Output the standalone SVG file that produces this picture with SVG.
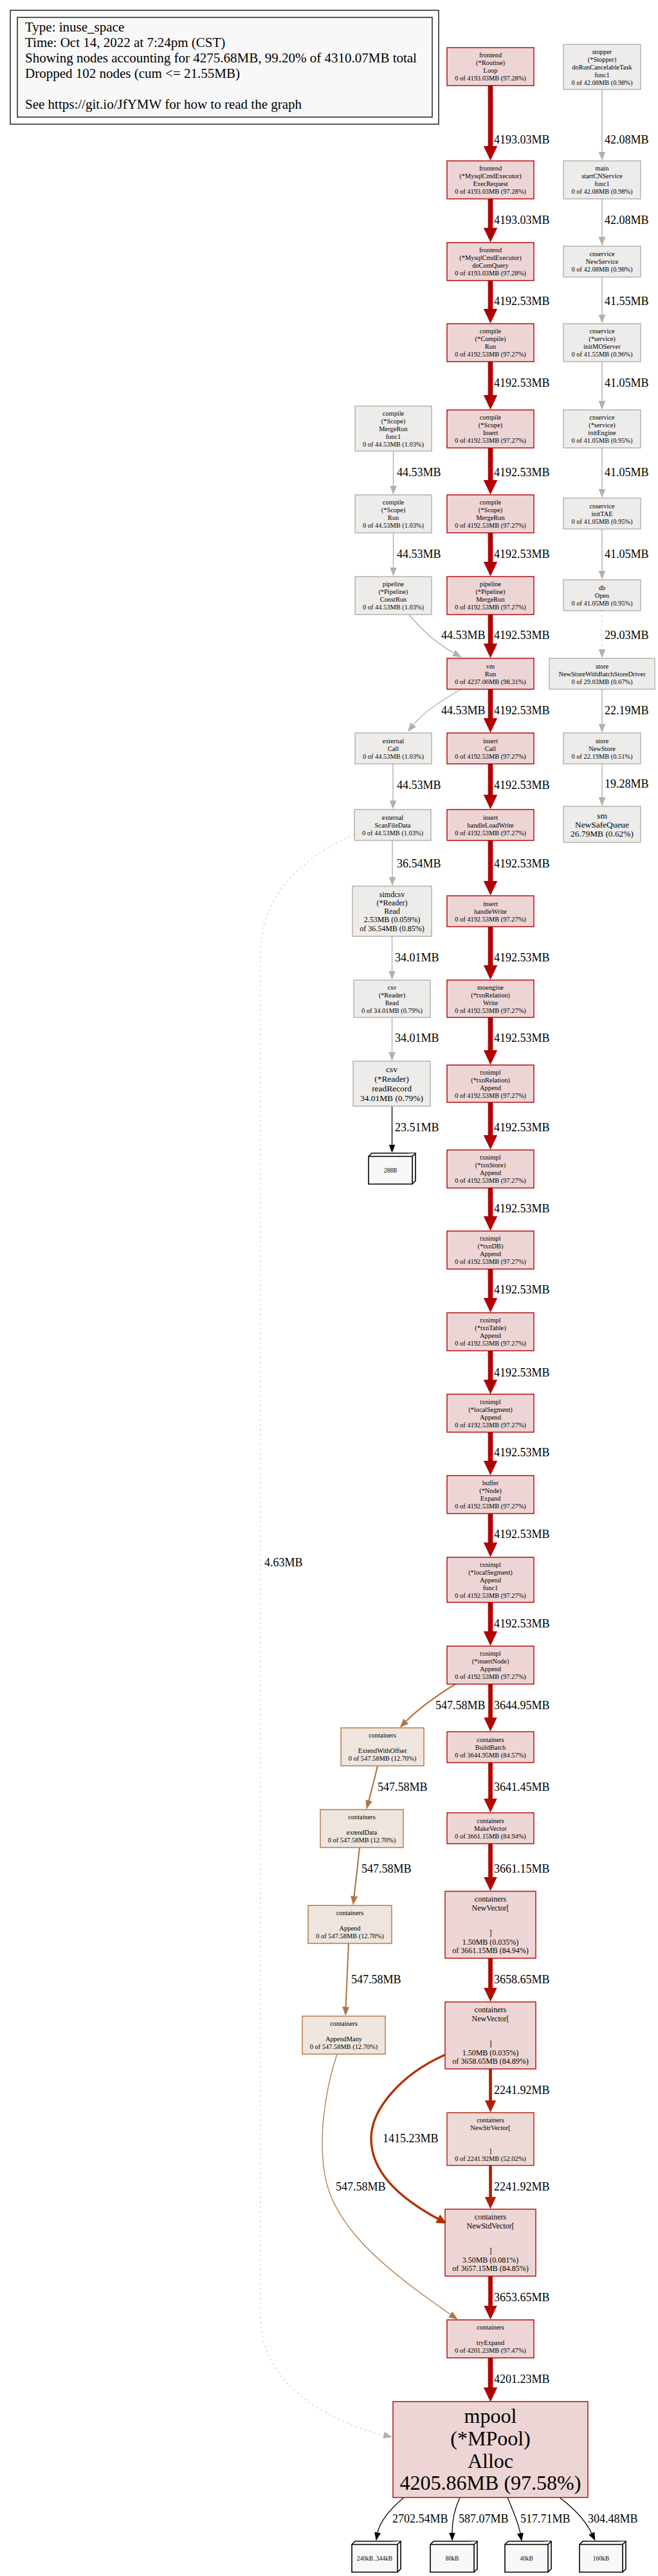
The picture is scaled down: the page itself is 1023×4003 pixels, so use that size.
<svg xmlns="http://www.w3.org/2000/svg" width="1023" height="4003" viewBox="0 0 1023 4003">
<style>
text{font-family:"Liberation Serif","Times New Roman",serif;fill:#000}
.n text{text-anchor:middle;font-size:10.4px}
.n12 text{font-size:12px}
.n13 text{font-size:13.4px}
.red rect{fill:#edd5d5;stroke:#b20000;stroke-width:1.4}
.red8 rect{fill:#edd6d5;stroke:#b20800;stroke-width:1.4}
.red1f rect{fill:#edd9d5;stroke:#b21f00;stroke-width:1.4}
.gray rect{fill:#edeceb;stroke:#b2b0a9;stroke-width:1.4}
.org rect{fill:#ede5de;stroke:#b27541;stroke-width:1.4}
.b3 path{fill:#f8f8f8;stroke:#000;stroke-width:1.6}
.b3 text{font-size:9.5px}
.lbl{font-size:18px}
#edges path{fill:none}
.eR{stroke:#b20000;stroke-width:7.6}
.eR8{stroke:#b20800;stroke-width:6.8}
.eR1f{stroke:#b21f00;stroke-width:4.7}
.eR32{stroke:#b23200;stroke-width:3.4}
.eO{stroke:#b27541;stroke-width:2.1}
.eO1{stroke:#b27541;stroke-width:1.3}
.eG{stroke:#b2b0a9;stroke-width:1.4}
.eD{stroke:#b2b1ac;stroke-width:1.4;stroke-dasharray:1.5,6}
.eK{stroke:#000;stroke-width:1.3}
</style>
<defs>
<marker id="aR" viewBox="0 0 23 22" markerWidth="23" markerHeight="22" refX="0.5" refY="11" orient="auto" markerUnits="userSpaceOnUse"><path d="M0,0L23,11L0,22z" fill="#b20000"/></marker>
<marker id="aR8" viewBox="0 0 22 21" markerWidth="22" markerHeight="21" refX="0.5" refY="10.5" orient="auto" markerUnits="userSpaceOnUse"><path d="M0,0L22,10.5L0,21z" fill="#b20800"/></marker>
<marker id="aR1f" viewBox="0 0 19 18" markerWidth="19" markerHeight="18" refX="0.5" refY="9" orient="auto" markerUnits="userSpaceOnUse"><path d="M0,0L19,9L0,18z" fill="#b21f00"/></marker>
<marker id="aR32" viewBox="0 0 16 15" markerWidth="16" markerHeight="15" refX="0.5" refY="7.5" orient="auto" markerUnits="userSpaceOnUse"><path d="M0,0L16,7.5L0,15z" fill="#b23200"/></marker>
<marker id="aO" viewBox="0 0 14 11" markerWidth="14" markerHeight="11" refX="0.5" refY="5.5" orient="auto" markerUnits="userSpaceOnUse"><path d="M0,0L14,5.5L0,11z" fill="#b27541"/></marker>
<marker id="aG" viewBox="0 0 14 11" markerWidth="14" markerHeight="11" refX="0.5" refY="5.5" orient="auto" markerUnits="userSpaceOnUse"><path d="M0,0L14,5.5L0,11z" fill="#b2b0a9"/></marker>
<marker id="aK" viewBox="0 0 13 10" markerWidth="13" markerHeight="10" refX="0.5" refY="5" orient="auto" markerUnits="userSpaceOnUse"><path d="M0,0L13,5L0,10z" fill="#000"/></marker>
</defs>
<rect width="1023" height="4003" fill="#fff"/>

<g id="legend">
<rect x="16" y="16" width="666" height="177" fill="#fff" stroke="#000" stroke-width="1.3"/>
<rect x="27" y="27" width="645" height="155" fill="#f8f8f8" stroke="#000" stroke-width="1.3"/>
<text x="39" y="49" font-size="21">Type: inuse_space</text>
<text x="39" y="73" font-size="21">Time: Oct 14, 2022 at 7:24pm (CST)</text>
<text x="39" y="97" font-size="21">Showing nodes accounting for 4275.68MB, 99.20% of 4310.07MB total</text>
<text x="39" y="121" font-size="21">Dropped 102 nodes (cum &lt;= 21.55MB)</text>
<text x="39" y="169" font-size="21">See https://git.io/JfYMW for how to read the graph</text>
</g>

<g id="edges">
<!-- main column -->
<path class="eR" d="M762.5,133V227" marker-end="url(#aR)"/>
<path class="eR" d="M762.5,309V354" marker-end="url(#aR)"/>
<path class="eR" d="M762.5,436V480" marker-end="url(#aR)"/>
<path class="eR" d="M762.5,562V614" marker-end="url(#aR)"/>
<path class="eR" d="M762.5,696V746" marker-end="url(#aR)"/>
<path class="eR" d="M762.5,828V873" marker-end="url(#aR)"/>
<path class="eR" d="M762.5,955V1000" marker-end="url(#aR)"/>
<path class="eR" d="M762.5,1071V1116" marker-end="url(#aR)"/>
<path class="eR" d="M762.5,1187V1235" marker-end="url(#aR)"/>
<path class="eR" d="M762.5,1306V1369" marker-end="url(#aR)"/>
<path class="eR" d="M762.5,1440V1500" marker-end="url(#aR)"/>
<path class="eR" d="M762.5,1581V1632" marker-end="url(#aR)"/>
<path class="eR" d="M762.5,1713V1764" marker-end="url(#aR)"/>
<path class="eR" d="M762.5,1846V1890" marker-end="url(#aR)"/>
<path class="eR" d="M762.5,1972V2017" marker-end="url(#aR)"/>
<path class="eR" d="M762.5,2099V2144" marker-end="url(#aR)"/>
<path class="eR" d="M762.5,2225V2270" marker-end="url(#aR)"/>
<path class="eR" d="M762.5,2352V2397" marker-end="url(#aR)"/>
<path class="eR" d="M762.5,2490V2535" marker-end="url(#aR)"/>
<path class="eR8" d="M762.5,2617V2669" marker-end="url(#aR8)"/>
<path class="eR8" d="M762.5,2739V2795" marker-end="url(#aR8)"/>
<path class="eR8" d="M762.5,2865V2917" marker-end="url(#aR8)"/>
<path class="eR8" d="M762.5,3043V3089" marker-end="url(#aR8)"/>
<path class="eR1f" d="M762.5,3215V3264" marker-end="url(#aR1f)"/>
<path class="eR1f" d="M762.5,3365V3414" marker-end="url(#aR1f)"/>
<path class="eR8" d="M762.5,3537V3583" marker-end="url(#aR8)"/>
<path class="eR" d="M762.5,3664V3710" marker-end="url(#aR)"/>
<path class="eR32" d="M692,3193C620,3225 577,3280 577,3323C577,3375 620,3415 681,3448" marker-end="url(#aR32)"/>
<!-- left column -->
<path class="eG" d="M611.5,701V755" marker-end="url(#aG)"/>
<path class="eG" d="M611.5,828V882" marker-end="url(#aG)"/>
<path class="eG" d="M636,955C660,985 685,1003 706,1015" marker-end="url(#aG)"/>
<path class="eG" d="M717,1071C690,1086 660,1105 642.4,1126.6" marker-end="url(#aG)"/>
<path class="eG" d="M611,1187V1244" marker-end="url(#aG)"/>
<path class="eG" d="M610,1306V1363" marker-end="url(#aG)"/>
<path class="eG" d="M609.5,1455V1509" marker-end="url(#aG)"/>
<path class="eG" d="M609.5,1581V1635" marker-end="url(#aG)"/>
<path class="eK" d="M609.5,1719V1779" marker-end="url(#aK)"/>
<path class="eD" d="M551,1297C490,1322 405,1380 405,1480L405,3600C405,3700 500,3760 597,3784" marker-end="url(#aG)"/>
<!-- right column -->
<path class="eG" d="M936,139V236" marker-end="url(#aG)"/>
<path class="eG" d="M936,309V368.5" marker-end="url(#aG)"/>
<path class="eG" d="M936,430.5V489" marker-end="url(#aG)"/>
<path class="eG" d="M936,562V623" marker-end="url(#aG)"/>
<path class="eG" d="M936,696V760" marker-end="url(#aG)"/>
<path class="eG" d="M936,822V887" marker-end="url(#aG)"/>
<path class="eD" d="M936,949V1009" marker-end="url(#aG)"/>
<path class="eG" d="M936,1071V1125" marker-end="url(#aG)"/>
<path class="eG" d="M936,1187V1239" marker-end="url(#aG)"/>
<!-- orange branch -->
<path class="eO" d="M708,2617C682,2633 652,2654 631,2675" marker-end="url(#aO)"/>
<path class="eO" d="M587,2744C582,2765 577,2785 573.4,2798.4" marker-end="url(#aO)"/>
<path class="eO" d="M559,2871C556,2900 553,2925 550.5,2947" marker-end="url(#aO)"/>
<path class="eO" d="M542,3020C540,3060 538.5,3095 537.6,3119" marker-end="url(#aO)"/>
<path class="eO1" d="M524,3192C505,3250 495,3320 505,3380C520,3470 620,3540 700.7,3596.8" marker-end="url(#aO)"/>
<!-- mpool outputs -->
<path class="eK" d="M628,3881C605,3900 590,3920 587,3936" marker-end="url(#aK)"/>
<path class="eK" d="M715,3881C706,3900 703,3920 703,3936" marker-end="url(#aK)"/>
<path class="eK" d="M789,3881C797,3900 806,3920 809,3937" marker-end="url(#aK)"/>
<path class="eK" d="M870,3881C895,3900 912,3920 920,3937" marker-end="url(#aK)"/>
</g>

<g id="edge-labels" class="lbl">
<text class="lbl" x="768" y="223">4193.03MB</text>
<text class="lbl" x="768" y="348">4193.03MB</text>
<text class="lbl" x="768" y="474">4192.53MB</text>
<text class="lbl" x="768" y="601">4192.53MB</text>
<text class="lbl" x="768" y="740">4192.53MB</text>
<text class="lbl" x="768" y="867">4192.53MB</text>
<text class="lbl" x="768" y="993">4192.53MB</text>
<text class="lbl" x="768" y="1110">4192.53MB</text>
<text class="lbl" x="768" y="1226">4192.53MB</text>
<text class="lbl" x="768" y="1348">4192.53MB</text>
<text class="lbl" x="768" y="1494">4192.53MB</text>
<text class="lbl" x="768" y="1619">4192.53MB</text>
<text class="lbl" x="768" y="1758">4192.53MB</text>
<text class="lbl" x="768" y="1884">4192.53MB</text>
<text class="lbl" x="768" y="2010">4192.53MB</text>
<text class="lbl" x="768" y="2139">4192.53MB</text>
<text class="lbl" x="768" y="2263">4192.53MB</text>
<text class="lbl" x="768" y="2390">4192.53MB</text>
<text class="lbl" x="768" y="2529">4192.53MB</text>
<text class="lbl" x="768" y="2656">3644.95MB</text>
<text class="lbl" x="768" y="2783">3641.45MB</text>
<text class="lbl" x="768" y="2910">3661.15MB</text>
<text class="lbl" x="768" y="3082">3658.65MB</text>
<text class="lbl" x="768" y="3254">2241.92MB</text>
<text class="lbl" x="768" y="3404">2241.92MB</text>
<text class="lbl" x="768" y="3576">3653.65MB</text>
<text class="lbl" x="768" y="3703">4201.23MB</text>
<text class="lbl" x="595" y="3329">1415.23MB</text>
<text class="lbl" x="617" y="740">44.53MB</text>
<text class="lbl" x="617" y="867">44.53MB</text>
<text class="lbl" x="686" y="993">44.53MB</text>
<text class="lbl" x="686" y="1110">44.53MB</text>
<text class="lbl" x="617" y="1226">44.53MB</text>
<text class="lbl" x="617" y="1348">36.54MB</text>
<text class="lbl" x="614" y="1494">34.01MB</text>
<text class="lbl" x="614" y="1619">34.01MB</text>
<text class="lbl" x="614" y="1758">23.51MB</text>
<text class="lbl" x="411" y="2434">4.63MB</text>
<text class="lbl" x="940" y="223">42.08MB</text>
<text class="lbl" x="940" y="348">42.08MB</text>
<text class="lbl" x="940" y="474">41.55MB</text>
<text class="lbl" x="940" y="601">41.05MB</text>
<text class="lbl" x="940" y="740">41.05MB</text>
<text class="lbl" x="940" y="867">41.05MB</text>
<text class="lbl" x="940" y="993">29.03MB</text>
<text class="lbl" x="940" y="1110">22.19MB</text>
<text class="lbl" x="940" y="1224">19.28MB</text>
<text class="lbl" x="677" y="2656">547.58MB</text>
<text class="lbl" x="587" y="2783">547.58MB</text>
<text class="lbl" x="562" y="2910">547.58MB</text>
<text class="lbl" x="546" y="3082">547.58MB</text>
<text class="lbl" x="522" y="3404">547.58MB</text>
<text class="lbl" x="610" y="3920">2702.54MB</text>
<text class="lbl" x="713" y="3920">587.07MB</text>
<text class="lbl" x="809" y="3920">517.71MB</text>
<text class="lbl" x="914" y="3920">304.48MB</text>
</g>

<!-- main column nodes -->
<g id="n_loop" class="n red"><rect x="695" y="74" width="135" height="59"/><text><tspan x="762.5" y="89.1">frontend</tspan><tspan x="762.5" y="101.1">(*Routine)</tspan><tspan x="762.5" y="113.1">Loop</tspan><tspan x="762.5" y="125.1">0 of 4193.03MB (97.28%)</tspan></text></g>
<g id="n_execrequest" class="n red"><rect x="695" y="250" width="135" height="59"/><text><tspan x="762.5" y="265.1">frontend</tspan><tspan x="762.5" y="277.1">(*MysqlCmdExecutor)</tspan><tspan x="762.5" y="289.1">ExecRequest</tspan><tspan x="762.5" y="301.1">0 of 4193.03MB (97.28%)</tspan></text></g>
<g id="n_docomquery" class="n red"><rect x="695" y="377" width="135" height="59"/><text><tspan x="762.5" y="392.1">frontend</tspan><tspan x="762.5" y="404.1">(*MysqlCmdExecutor)</tspan><tspan x="762.5" y="416.1">doComQuery</tspan><tspan x="762.5" y="428.1">0 of 4193.03MB (97.28%)</tspan></text></g>
<g id="n_compile_run" class="n red"><rect x="695" y="503" width="135" height="59"/><text><tspan x="762.5" y="518.1">compile</tspan><tspan x="762.5" y="530.1">(*Compile)</tspan><tspan x="762.5" y="542.1">Run</tspan><tspan x="762.5" y="554.1">0 of 4192.53MB (97.27%)</tspan></text></g>
<g id="n_scope_insert" class="n red"><rect x="695" y="637" width="135" height="59"/><text><tspan x="762.5" y="652.1">compile</tspan><tspan x="762.5" y="664.1">(*Scope)</tspan><tspan x="762.5" y="676.1">Insert</tspan><tspan x="762.5" y="688.1">0 of 4192.53MB (97.27%)</tspan></text></g>
<g id="n_scope_mergerun" class="n red"><rect x="695" y="769" width="135" height="59"/><text><tspan x="762.5" y="784.1">compile</tspan><tspan x="762.5" y="796.1">(*Scope)</tspan><tspan x="762.5" y="808.1">MergeRun</tspan><tspan x="762.5" y="820.1">0 of 4192.53MB (97.27%)</tspan></text></g>
<g id="n_pipeline_mergerun" class="n red"><rect x="695" y="896" width="135" height="59"/><text><tspan x="762.5" y="911.1">pipeline</tspan><tspan x="762.5" y="923.1">(*Pipeline)</tspan><tspan x="762.5" y="935.1">MergeRun</tspan><tspan x="762.5" y="947.1">0 of 4192.53MB (97.27%)</tspan></text></g>
<g id="n_vm_run" class="n red"><rect x="695" y="1023" width="135" height="48"/><text><tspan x="762.5" y="1038.6">vm</tspan><tspan x="762.5" y="1050.6">Run</tspan><tspan x="762.5" y="1062.6">0 of 4237.06MB (98.31%)</tspan></text></g>
<g id="n_insert_call" class="n red"><rect x="695" y="1139" width="135" height="48"/><text><tspan x="762.5" y="1154.6">insert</tspan><tspan x="762.5" y="1166.6">Call</tspan><tspan x="762.5" y="1178.6">0 of 4192.53MB (97.27%)</tspan></text></g>
<g id="n_handleloadwrite" class="n red"><rect x="695" y="1258" width="135" height="48"/><text><tspan x="762.5" y="1273.6">insert</tspan><tspan x="762.5" y="1285.6">handleLoadWrite</tspan><tspan x="762.5" y="1297.6">0 of 4192.53MB (97.27%)</tspan></text></g>
<g id="n_handlewrite" class="n red"><rect x="695" y="1392" width="135" height="48"/><text><tspan x="762.5" y="1407.6">insert</tspan><tspan x="762.5" y="1419.6">handleWrite</tspan><tspan x="762.5" y="1431.6">0 of 4192.53MB (97.27%)</tspan></text></g>
<g id="n_moengine_write" class="n red"><rect x="695" y="1523" width="135" height="58"/><text><tspan x="762.5" y="1537.6">moengine</tspan><tspan x="762.5" y="1549.6">(*txnRelation)</tspan><tspan x="762.5" y="1561.6">Write</tspan><tspan x="762.5" y="1573.6">0 of 4192.53MB (97.27%)</tspan></text></g>
<g id="n_txnrelation_append" class="n red"><rect x="695" y="1655" width="135" height="58"/><text><tspan x="762.5" y="1669.6">txnimpl</tspan><tspan x="762.5" y="1681.6">(*txnRelation)</tspan><tspan x="762.5" y="1693.6">Append</tspan><tspan x="762.5" y="1705.6">0 of 4192.53MB (97.27%)</tspan></text></g>
<g id="n_txnstore_append" class="n red"><rect x="695" y="1787" width="135" height="59"/><text><tspan x="762.5" y="1802.1">txnimpl</tspan><tspan x="762.5" y="1814.1">(*txnStore)</tspan><tspan x="762.5" y="1826.1">Append</tspan><tspan x="762.5" y="1838.1">0 of 4192.53MB (97.27%)</tspan></text></g>
<g id="n_txndb_append" class="n red"><rect x="695" y="1913" width="135" height="59"/><text><tspan x="762.5" y="1928.1">txnimpl</tspan><tspan x="762.5" y="1940.1">(*txnDB)</tspan><tspan x="762.5" y="1952.1">Append</tspan><tspan x="762.5" y="1964.1">0 of 4192.53MB (97.27%)</tspan></text></g>
<g id="n_txntable_append" class="n red"><rect x="695" y="2040" width="135" height="59"/><text><tspan x="762.5" y="2055.1">txnimpl</tspan><tspan x="762.5" y="2067.1">(*txnTable)</tspan><tspan x="762.5" y="2079.1">Append</tspan><tspan x="762.5" y="2091.1">0 of 4192.53MB (97.27%)</tspan></text></g>
<g id="n_localsegment_append" class="n red"><rect x="695" y="2166.5" width="135" height="59"/><text><tspan x="762.5" y="2181.6">txnimpl</tspan><tspan x="762.5" y="2193.6">(*localSegment)</tspan><tspan x="762.5" y="2205.6">Append</tspan><tspan x="762.5" y="2217.6">0 of 4192.53MB (97.27%)</tspan></text></g>
<g id="n_node_expand" class="n red"><rect x="695" y="2293" width="135" height="59"/><text><tspan x="762.5" y="2308.1">buffer</tspan><tspan x="762.5" y="2320.1">(*Node)</tspan><tspan x="762.5" y="2332.1">Expand</tspan><tspan x="762.5" y="2344.1">0 of 4192.53MB (97.27%)</tspan></text></g>
<g id="n_localsegment_append_func1" class="n red"><rect x="695" y="2420" width="135" height="70"/><text><tspan x="762.5" y="2434.6">txnimpl</tspan><tspan x="762.5" y="2446.6">(*localSegment)</tspan><tspan x="762.5" y="2458.6">Append</tspan><tspan x="762.5" y="2470.6">func1</tspan><tspan x="762.5" y="2482.6">0 of 4192.53MB (97.27%)</tspan></text></g>
<g id="n_insertnode_append" class="n red"><rect x="695" y="2558" width="135" height="59"/><text><tspan x="762.5" y="2573.1">txnimpl</tspan><tspan x="762.5" y="2585.1">(*insertNode)</tspan><tspan x="762.5" y="2597.1">Append</tspan><tspan x="762.5" y="2609.1">0 of 4192.53MB (97.27%)</tspan></text></g>
<g id="n_buildbatch" class="n red8"><rect x="695" y="2691" width="135" height="48"/><text><tspan x="762.5" y="2706.6">containers</tspan><tspan x="762.5" y="2718.6">BuildBatch</tspan><tspan x="762.5" y="2730.6">0 of 3644.95MB (84.57%)</tspan></text></g>
<g id="n_makevector" class="n red8"><rect x="695" y="2817" width="135" height="48"/><text><tspan x="762.5" y="2832.6">containers</tspan><tspan x="762.5" y="2844.6">MakeVector</tspan><tspan x="762.5" y="2856.6">0 of 3661.15MB (84.94%)</tspan></text></g>
<g id="n_newvector1" class="n n12 red8"><rect x="692" y="2939" width="141" height="104"/><text><tspan x="762.5" y="2955.2">containers</tspan><tspan x="762.5" y="2968.5">NewVector[</tspan><tspan x="762.5" y="3008.4">]</tspan><tspan x="762.5" y="3021.7">1.50MB (0.035%)</tspan><tspan x="762.5" y="3035">of 3661.15MB (84.94%)</tspan></text></g>
<g id="n_newvector2" class="n n12 red8"><rect x="692" y="3111" width="141" height="104"/><text><tspan x="762.5" y="3127.2">containers</tspan><tspan x="762.5" y="3140.5">NewVector[</tspan><tspan x="762.5" y="3180.4">]</tspan><tspan x="762.5" y="3193.7">1.50MB (0.035%)</tspan><tspan x="762.5" y="3207">of 3658.65MB (84.89%)</tspan></text></g>
<g id="n_newstrvector" class="n red1f"><rect x="695" y="3283" width="135" height="82"/><text><tspan x="762.5" y="3297.6">containers</tspan><tspan x="762.5" y="3309.6">NewStrVector[</tspan><tspan x="762.5" y="3345.6">]</tspan><tspan x="762.5" y="3357.6">0 of 2241.92MB (52.02%)</tspan></text></g>
<g id="n_newstdvector" class="n n12 red8"><rect x="692" y="3433" width="141" height="104"/><text><tspan x="762.5" y="3449.2">containers</tspan><tspan x="762.5" y="3462.5">NewStdVector[</tspan><tspan x="762.5" y="3502.4">]</tspan><tspan x="762.5" y="3515.7">3.50MB (0.081%)</tspan><tspan x="762.5" y="3529">of 3657.15MB (84.85%)</tspan></text></g>
<g id="n_tryexpand" class="n red"><rect x="695" y="3605" width="135" height="59"/><text><tspan x="762.5" y="3620.1">containers</tspan><tspan x="762.5" y="3644.1">tryExpand</tspan><tspan x="762.5" y="3656.1">0 of 4201.23MB (97.47%)</tspan></text></g>
<g id="n_mpool_alloc" class="n red"><rect x="611" y="3732" width="303" height="149"/><text style="font-size:32px"><tspan x="762.5" y="3765.3">mpool</tspan><tspan x="762.5" y="3800">(*MPool)</tspan><tspan x="762.5" y="3834.6">Alloc</tspan><tspan x="762.5" y="3869.3">4205.86MB (97.58%)</tspan></text></g>

<!-- left column nodes -->
<g id="n_mergerun_func1" class="n gray"><rect x="552" y="631" width="119" height="70"/><text><tspan x="611.5" y="645.6">compile</tspan><tspan x="611.5" y="657.6">(*Scope)</tspan><tspan x="611.5" y="669.6">MergeRun</tspan><tspan x="611.5" y="681.6">func1</tspan><tspan x="611.5" y="693.6">0 of 44.53MB (1.03%)</tspan></text></g>
<g id="n_scope_run" class="n gray"><rect x="552" y="769" width="119" height="59"/><text><tspan x="611.5" y="784.1">compile</tspan><tspan x="611.5" y="796.1">(*Scope)</tspan><tspan x="611.5" y="808.1">Run</tspan><tspan x="611.5" y="820.1">0 of 44.53MB (1.03%)</tspan></text></g>
<g id="n_construn" class="n gray"><rect x="552" y="896" width="119" height="59"/><text><tspan x="611.5" y="911.1">pipeline</tspan><tspan x="611.5" y="923.1">(*Pipeline)</tspan><tspan x="611.5" y="935.1">ConstRun</tspan><tspan x="611.5" y="947.1">0 of 44.53MB (1.03%)</tspan></text></g>
<g id="n_external_call" class="n gray"><rect x="552" y="1139" width="119" height="48"/><text><tspan x="611.5" y="1154.6">external</tspan><tspan x="611.5" y="1166.6">Call</tspan><tspan x="611.5" y="1178.6">0 of 44.53MB (1.03%)</tspan></text></g>
<g id="n_scanfiledata" class="n gray"><rect x="551" y="1258" width="119" height="48"/><text><tspan x="610.5" y="1273.6">external</tspan><tspan x="610.5" y="1285.6">ScanFileData</tspan><tspan x="610.5" y="1297.6">0 of 44.53MB (1.03%)</tspan></text></g>
<g id="n_simdcsv_read" class="n n12 gray"><rect x="548" y="1377" width="123" height="78"/><text><tspan x="609.5" y="1393.5">simdcsv</tspan><tspan x="609.5" y="1406.8">(*Reader)</tspan><tspan x="609.5" y="1420.1">Read</tspan><tspan x="609.5" y="1433.4">2.53MB (0.059%)</tspan><tspan x="609.5" y="1446.7">of 36.54MB (0.85%)</tspan></text></g>
<g id="n_csv_read" class="n gray"><rect x="550" y="1523" width="119" height="58"/><text><tspan x="609.5" y="1537.6">csv</tspan><tspan x="609.5" y="1549.6">(*Reader)</tspan><tspan x="609.5" y="1561.6">Read</tspan><tspan x="609.5" y="1573.6">0 of 34.01MB (0.79%)</tspan></text></g>
<g id="n_csv_readrecord" class="n n13 gray"><rect x="549" y="1649" width="120" height="70"/><text><tspan x="609" y="1666.1">csv</tspan><tspan x="609" y="1681.1">(*Reader)</tspan><tspan x="609" y="1696.1">readRecord</tspan><tspan x="609" y="1711.1">34.01MB (0.79%)</tspan></text></g>
<g id="n_tag_288B" class="n b3"><path d="M573,1797L578,1792L646,1792L646,1835L641,1840L573,1840Z"/><path d="M573,1797L641,1797L646,1792M641,1797L641,1840"/><text x="607" y="1822">288B</text></g>

<!-- right column nodes -->
<g id="n_stopper" class="n gray"><rect x="876" y="69" width="120" height="70"/><text><tspan x="936" y="83.6">stopper</tspan><tspan x="936" y="95.6">(*Stopper)</tspan><tspan x="936" y="107.6">doRunCancelableTask</tspan><tspan x="936" y="119.6">func1</tspan><tspan x="936" y="131.6">0 of 42.08MB (0.98%)</tspan></text></g>
<g id="n_startcnservice" class="n gray"><rect x="876" y="250" width="120" height="59"/><text><tspan x="936" y="265.1">main</tspan><tspan x="936" y="277.1">startCNService</tspan><tspan x="936" y="289.1">func1</tspan><tspan x="936" y="301.1">0 of 42.08MB (0.98%)</tspan></text></g>
<g id="n_newservice" class="n gray"><rect x="876" y="382.5" width="120" height="48"/><text><tspan x="936" y="398.1">cnservice</tspan><tspan x="936" y="410.1">NewService</tspan><tspan x="936" y="422.1">0 of 42.08MB (0.98%)</tspan></text></g>
<g id="n_initmoserver" class="n gray"><rect x="876" y="503" width="120" height="59"/><text><tspan x="936" y="518.1">cnservice</tspan><tspan x="936" y="530.1">(*service)</tspan><tspan x="936" y="542.1">initMOServer</tspan><tspan x="936" y="554.1">0 of 41.55MB (0.96%)</tspan></text></g>
<g id="n_initengine" class="n gray"><rect x="876" y="637" width="120" height="59"/><text><tspan x="936" y="652.1">cnservice</tspan><tspan x="936" y="664.1">(*service)</tspan><tspan x="936" y="676.1">initEngine</tspan><tspan x="936" y="688.1">0 of 41.05MB (0.95%)</tspan></text></g>
<g id="n_inittae" class="n gray"><rect x="876" y="774" width="120" height="48"/><text><tspan x="936" y="789.6">cnservice</tspan><tspan x="936" y="801.6">initTAE</tspan><tspan x="936" y="813.6">0 of 41.05MB (0.95%)</tspan></text></g>
<g id="n_db_open" class="n gray"><rect x="876" y="901" width="120" height="48"/><text><tspan x="936" y="916.6">db</tspan><tspan x="936" y="928.6">Open</tspan><tspan x="936" y="940.6">0 of 41.05MB (0.95%)</tspan></text></g>
<g id="n_newstorewithbatch" class="n gray"><rect x="854" y="1023" width="164" height="48"/><text><tspan x="936" y="1038.6">store</tspan><tspan x="936" y="1050.6">NewStoreWithBatchStoreDriver</tspan><tspan x="936" y="1062.6">0 of 29.03MB (0.67%)</tspan></text></g>
<g id="n_newstore" class="n gray"><rect x="876" y="1139" width="120" height="48"/><text><tspan x="936" y="1154.6">store</tspan><tspan x="936" y="1166.6">NewStore</tspan><tspan x="936" y="1178.6">0 of 22.19MB (0.51%)</tspan></text></g>
<g id="n_newsafequeue" class="n n13 gray"><rect x="876" y="1253" width="120" height="56"/><text><tspan x="936" y="1271.6">sm</tspan><tspan x="936" y="1285.6">NewSafeQueue</tspan><tspan x="936" y="1299.6">26.79MB (0.62%)</tspan></text></g>

<!-- orange branch nodes -->
<g id="n_extendwithoffset" class="n org"><rect x="530" y="2685" width="129" height="59"/><text><tspan x="594.5" y="2700.1">containers</tspan><tspan x="594.5" y="2724.1">ExtendWithOffset</tspan><tspan x="594.5" y="2736.1">0 of 547.58MB (12.70%)</tspan></text></g>
<g id="n_extenddata" class="n org"><rect x="498" y="2812" width="129" height="59"/><text><tspan x="562.5" y="2827.1">containers</tspan><tspan x="562.5" y="2851.1">extendData</tspan><tspan x="562.5" y="2863.1">0 of 547.58MB (12.70%)</tspan></text></g>
<g id="n_append" class="n org"><rect x="479" y="2961" width="130" height="59"/><text><tspan x="544" y="2976.1">containers</tspan><tspan x="544" y="3000.1">Append</tspan><tspan x="544" y="3012.1">0 of 547.58MB (12.70%)</tspan></text></g>
<g id="n_appendmany" class="n org"><rect x="470" y="3133" width="129" height="59"/><text><tspan x="534.5" y="3148.1">containers</tspan><tspan x="534.5" y="3172.1">AppendMany</tspan><tspan x="534.5" y="3184.1">0 of 547.58MB (12.70%)</tspan></text></g>

<!-- mpool tag nodes -->
<g id="n_tag_240kB" class="n b3"><path d="M547,3954L552,3949L623,3949L623,3992L618,3997L547,3997Z"/><path d="M547,3954L618,3954L623,3949M618,3954L618,3997"/><text x="582.5" y="3979">240kB..344kB</text></g>
<g id="n_tag_80kB" class="n b3"><path d="M669,3954L674,3949L742,3949L742,3992L737,3997L669,3997Z"/><path d="M669,3954L737,3954L742,3949M737,3954L737,3997"/><text x="703" y="3979">80kB</text></g>
<g id="n_tag_40kB" class="n b3"><path d="M785,3954L790,3949L857,3949L857,3992L852,3997L785,3997Z"/><path d="M785,3954L852,3954L857,3949M852,3954L852,3997"/><text x="818.5" y="3979">40kB</text></g>
<g id="n_tag_160kB" class="n b3"><path d="M901,3954L906,3949L973,3949L973,3992L968,3997L901,3997Z"/><path d="M901,3954L968,3954L973,3949M968,3954L968,3997"/><text x="934.5" y="3979">160kB</text></g>
</svg>
